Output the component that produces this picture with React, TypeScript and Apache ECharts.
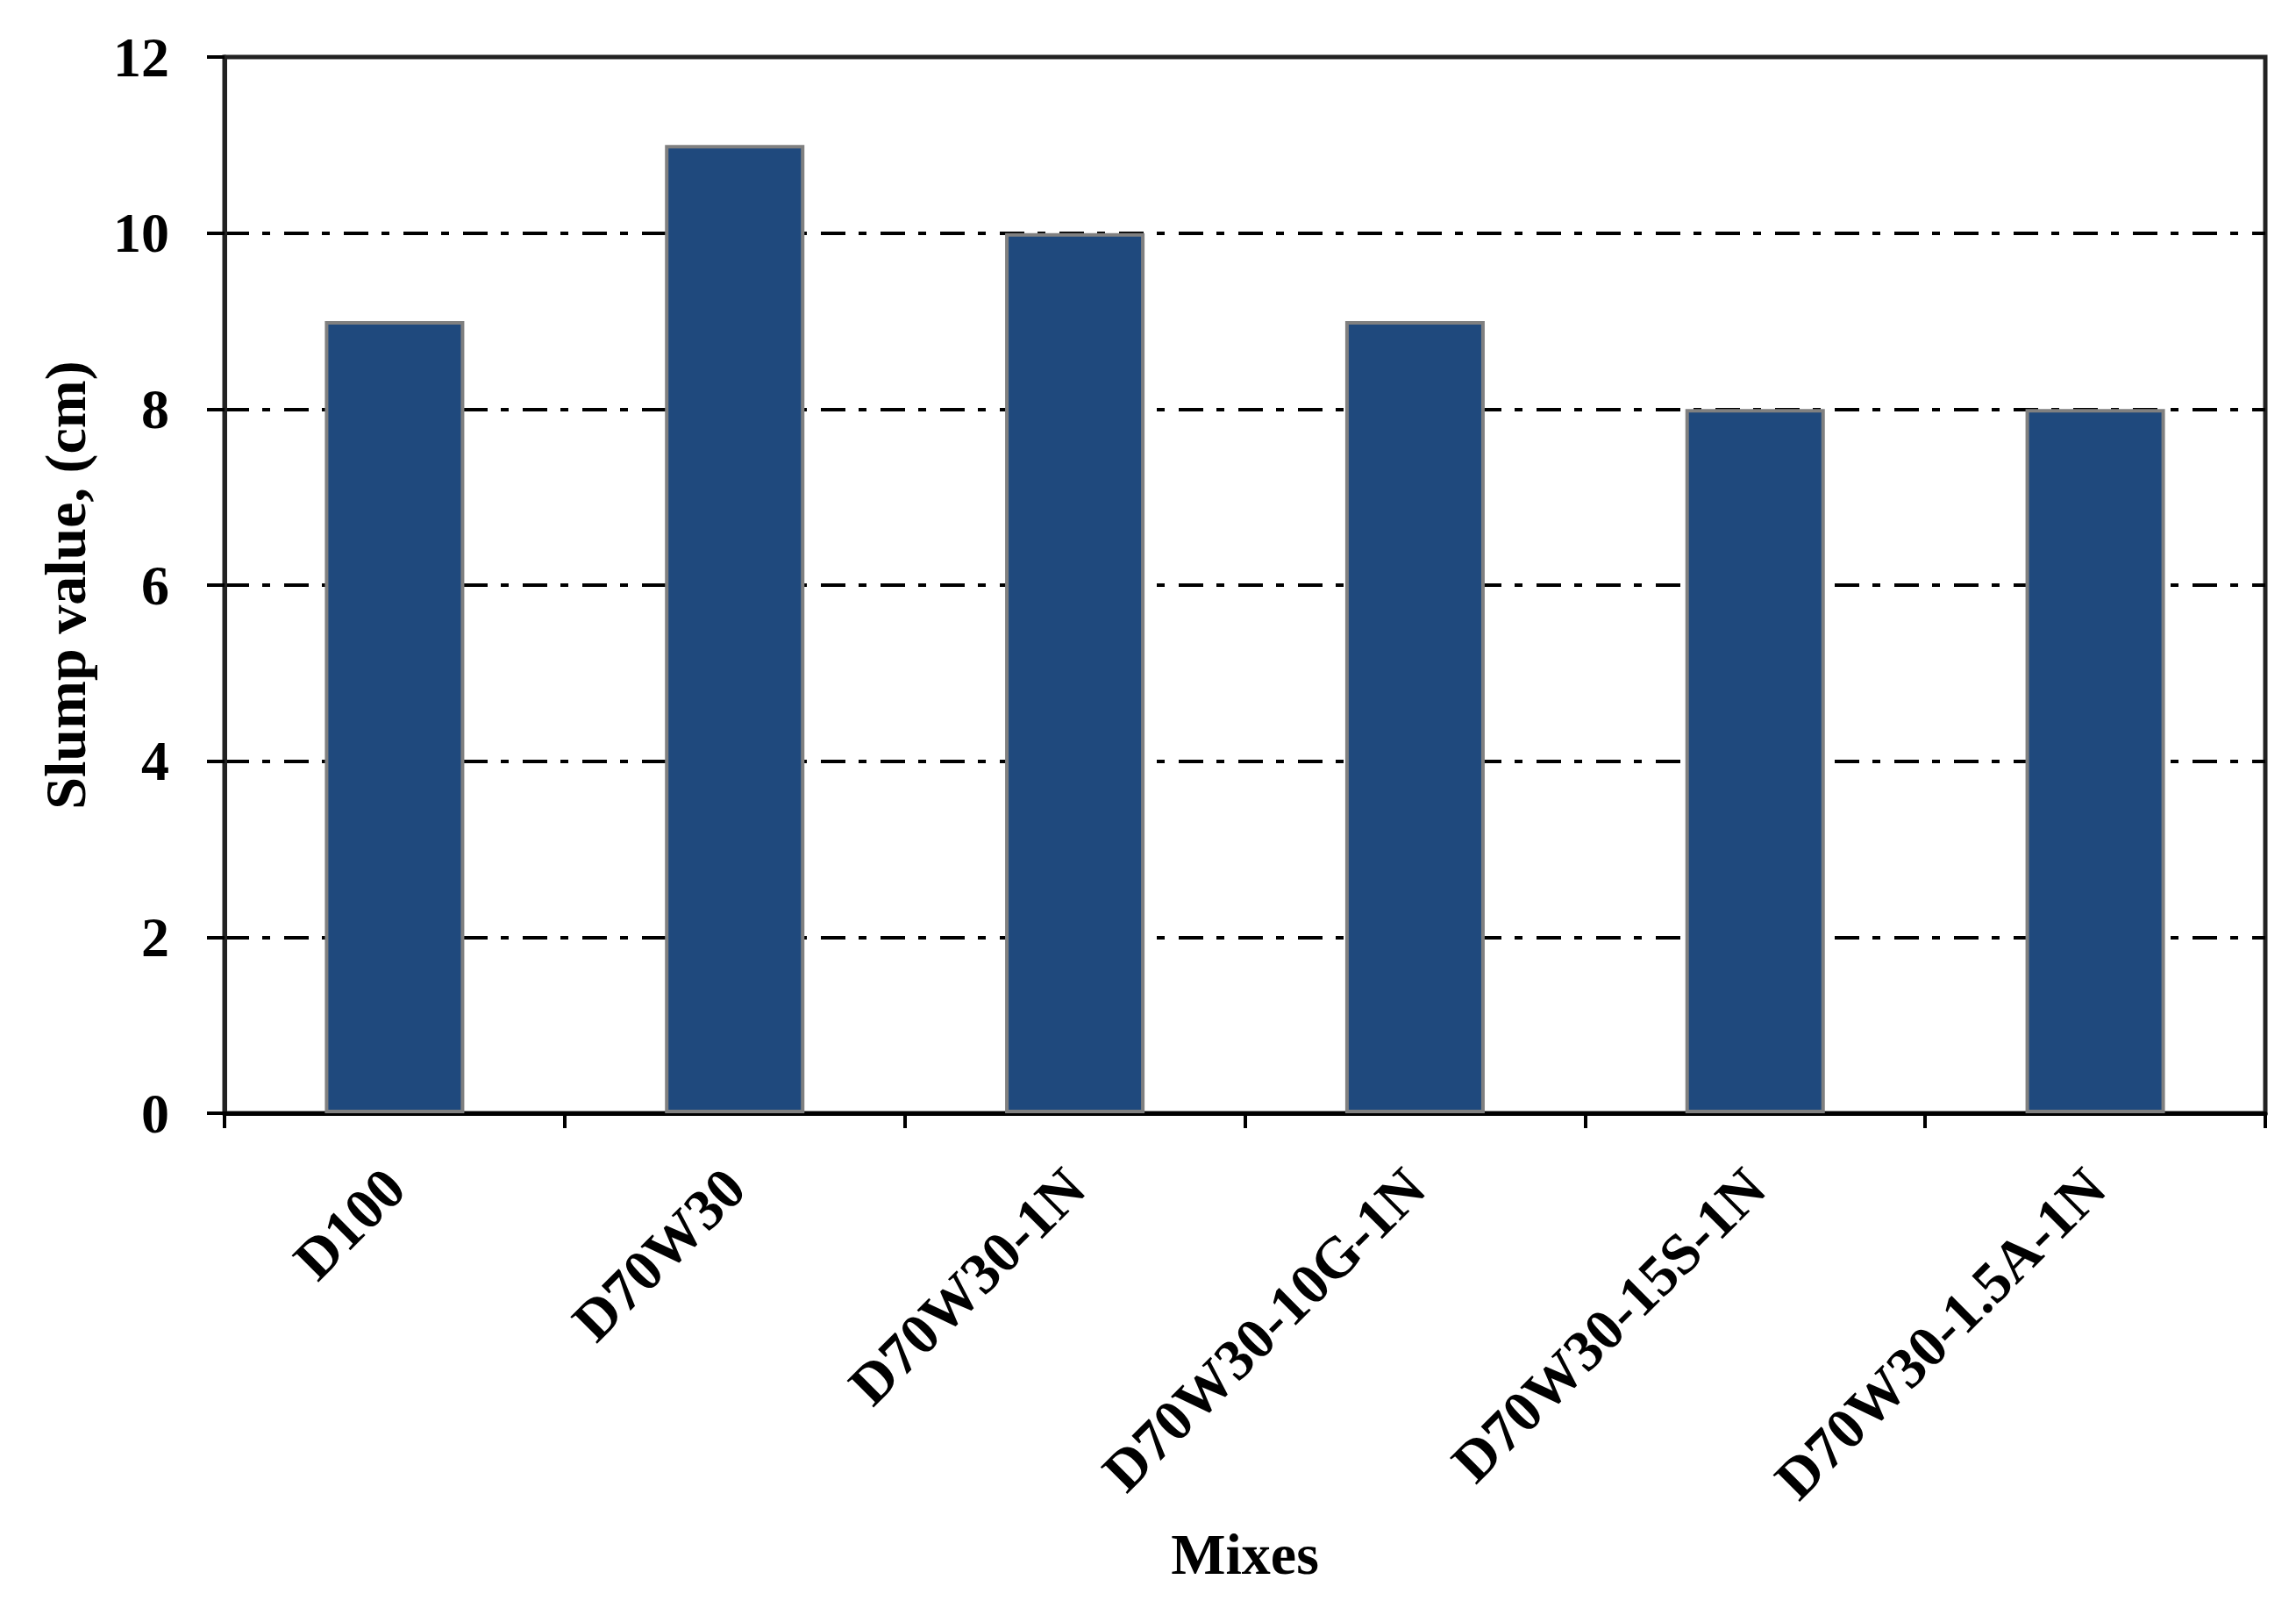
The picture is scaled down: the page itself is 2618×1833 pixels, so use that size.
import React, { useEffect, useRef } from "react";
import * as echarts from "echarts";

const categories = ["D100", "D70W30", "D70W30-1N", "D70W30-10G-1N", "D70W30-15S-1N", "D70W30-1.5A-1N"];
const slumpValues = [9, 11, 10, 9, 8, 8];
const yTicks = { min: 0, max: 12, interval: 2 };

const FONT = '"Liberation Serif", "Times New Roman", serif';

export default function App() {
  const ref = useRef<HTMLDivElement>(null);
  useEffect(() => {
    if (!ref.current) return;
    const chart = echarts.init(ref.current, null, { renderer: "svg" });
    chart.setOption({
      animation: false,
      backgroundColor: "#ffffff",
      grid: {
        left: 256,
        right: 35,
        top: 65,
        bottom: 564,
        show: true,
        borderColor: "#222222",
        borderWidth: 5,
        backgroundColor: "transparent",
      },
      xAxis: {
        type: "category",
        data: categories,
        name: "Mixes",
        nameLocation: "middle",
        nameGap: 469,
        nameTextStyle: { fontFamily: FONT, fontWeight: "bold", fontSize: 66, color: "#000" },
        axisLine: { show: true, lineStyle: { color: "#000", width: 5 } },
        axisTick: { show: true, inside: false, length: 17, lineStyle: { color: "#000", width: 4 } },
        axisLabel: {
          rotate: 45,
          interval: 0,
          margin: 74,
          verticalAlign: "middle",
          fontFamily: FONT,
          fontWeight: "bold",
          fontSize: 66,
          color: "#000",
        },
        splitLine: { show: false },
      },
      yAxis: {
        type: "value",
        min: yTicks.min,
        max: yTicks.max,
        interval: yTicks.interval,
        name: "Slump value, (cm)",
        nameLocation: "middle",
        nameGap: 149,
        nameRotate: 90,
        nameTextStyle: { fontFamily: FONT, fontWeight: "bold", fontSize: 66, color: "#000" },
        axisLine: { show: true, lineStyle: { color: "#222", width: 5 } },
        axisTick: { show: true, inside: false, length: 20, lineStyle: { color: "#000", width: 4 } },
        axisLabel: {
          margin: 63,
          fontFamily: FONT,
          fontWeight: "bold",
          fontSize: 64,
          color: "#000",
        },
        splitLine: {
          show: true,
          showMinLine: false,
          showMaxLine: false,
          lineStyle: { color: "#000", width: 4, type: [28, 15, 9, 16] },
        },
      },
      series: [
        {
          type: "bar",
          data: slumpValues,
          barWidth: "41%",
          itemStyle: { color: "#1f497d", borderColor: "#808080", borderWidth: 4 },
        },
      ],
    });
    return () => chart.dispose();
  }, []);
  return (
    <div
      ref={ref}
      style={{ position: "fixed", left: 0, top: 0, width: 2618, height: 1833, background: "#fff" }}
    />
  );
}
